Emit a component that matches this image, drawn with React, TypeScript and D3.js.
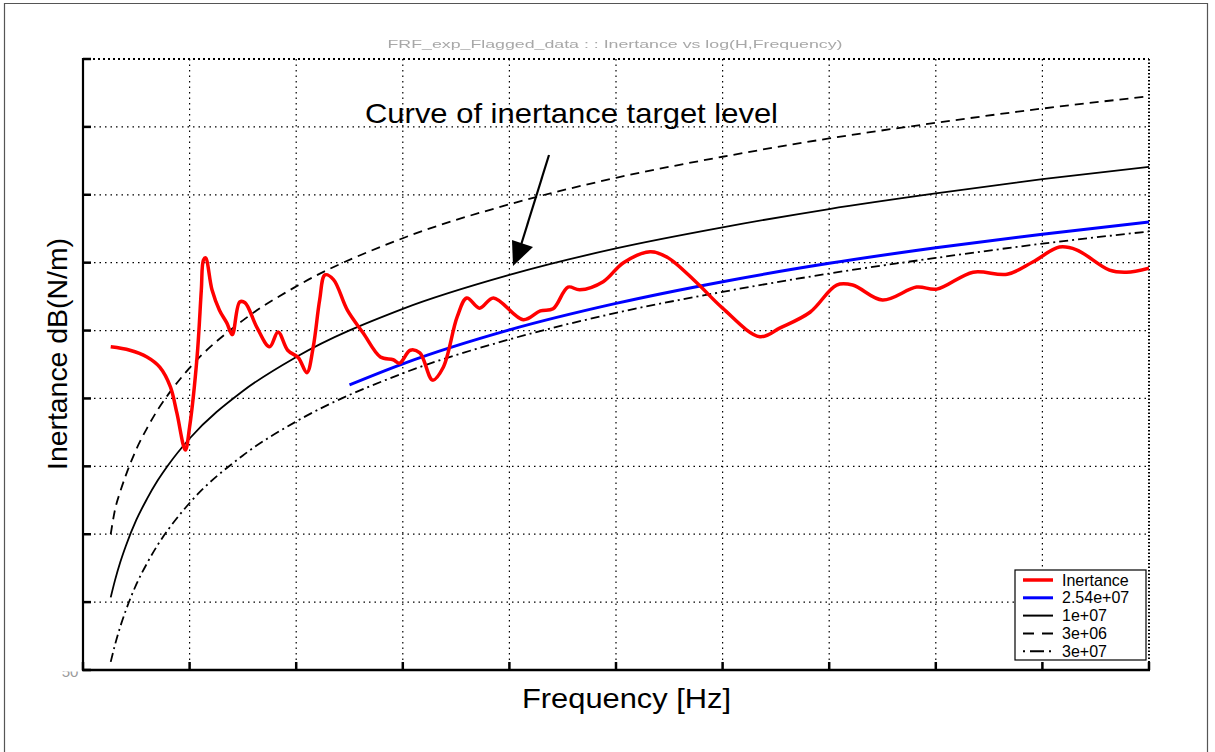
import React from 'react';
import * as d3 from 'd3';

// ---- data (frequency in Hz, inertance in dB) ----
const xTicks = [0, 100, 200, 300, 400, 500, 600, 700, 800, 900, 1000];
const yTicks = [50, 60, 70, 80, 90, 100, 110, 120, 130, 140];

const freqTarget = [26, 30, 35, 40, 50, 60, 70, 80, 100, 150, 200, 300, 400, 500, 600, 700, 800, 900, 1000];
const target3e6 = [70.0, 73.6, 76.3, 78.6, 82.5, 85.6, 88.3, 90.6, 94.5, 101.5, 106.5, 113.6, 118.6, 122.5, 125.6, 128.3, 130.6, 132.7, 134.5];
const target1e7 = [60.7, 63.2, 65.9, 68.2, 72.1, 75.2, 77.9, 80.2, 84.1, 91.1, 96.1, 103.2, 108.2, 112.1, 115.2, 117.9, 120.2, 122.3, 124.1];
const target3e7 = [51.2, 53.7, 56.4, 58.7, 62.6, 65.7, 68.4, 70.7, 74.6, 81.6, 86.6, 93.7, 98.7, 102.6, 105.7, 108.4, 110.7, 112.8, 114.6];

const freqFit = [250, 300, 400, 500, 600, 700, 800, 900, 1000];
const fit254e7 = [92.0, 95.1, 100.1, 104.0, 107.2, 109.9, 112.2, 114.2, 116.0];

const freqMeas = [26, 44, 60, 72, 82, 88, 96, 100, 107, 111, 113, 115, 121, 128, 135, 140, 147, 152, 163, 175, 183, 192, 202, 210, 216, 222, 227, 235, 248, 263, 279, 291, 297, 307, 316, 328, 338, 351, 360, 372, 385, 413, 429, 441, 455, 466, 488, 507, 532, 548, 576, 600, 635, 654, 682, 707, 722, 750, 782, 801, 835, 867, 891, 916, 932, 963, 979, 1000];
const inertance = [97.6, 97.1, 96.1, 94.6, 91.7, 87.9, 82.4, 85.8, 96.1, 106.0, 110.4, 110.7, 106.0, 103.0, 101.1, 99.4, 104.2, 104.1, 100.5, 97.6, 99.8, 97.1, 96.0, 93.8, 97.6, 104.5, 108.2, 107.5, 103.0, 99.6, 96.1, 95.7, 95.2, 97.1, 96.7, 92.7, 94.6, 102.0, 104.8, 103.3, 104.8, 101.6, 102.9, 103.2, 106.4, 106.0, 107.2, 110.0, 111.6, 110.8, 107.0, 103.3, 99.1, 100.4, 102.7, 106.7, 106.7, 104.5, 106.4, 106.1, 108.6, 108.3, 110.1, 112.3, 111.9, 108.9, 108.6, 109.2];

const legendLabels = ['Inertance', '2.54e+07', '1e+07', '3e+06', '3e+07'];

const FONT = '"Liberation Sans", Arial, Helvetica, sans-serif';

export default function App() {
  const left = 83, right = 1149, top = 59, bottom = 670;
  const x = d3.scaleLinear().domain([0, 1000]).range([left, right]);
  const y = d3.scaleLinear().domain([50, 140]).range([bottom, top]);

  const smooth = d3.line<[number, number]>()
    .x(d => x(d[0])).y(d => y(d[1]))
    .curve(d3.curveMonotoneX);
  const wiggly = d3.line<[number, number]>()
    .x(d => x(d[0])).y(d => y(d[1]))
    .curve(d3.curveCatmullRom.alpha(0.5));

  const zip = (a: number[], b: number[]) => a.map((v, i) => [v, b[i]] as [number, number]);

  const gridDash = '1.5,4';

  const styles = [
    { stroke: '#ff0000', width: 3.5 },
    { stroke: '#0000ff', width: 3 },
    { stroke: '#000', width: 2 },
    { stroke: '#000', width: 2 },
    { stroke: '#000', width: 2 },
  ];
  const legendSample = [undefined, undefined, undefined, '11,8', '2,5,14,5,2'];

  const lgX = 1015, lgY = 570, lgW = 131, lgH = 90;

  return (
    <svg width={1215} height={752} style={{ position: 'absolute', left: 0, top: 0, background: '#fff' }}>
      <defs>
        <clipPath id="plot"><rect x={left} y={top} width={right - left} height={bottom - top} /></clipPath>
        <clipPath id="fifty"><rect x={55} y={671.5} width={30} height={10} /></clipPath>
        <filter id="blur"><feGaussianBlur stdDeviation="0.7" /></filter>
      </defs>

      {/* outer frame */}
      <path d="M4.5,752 V3.5 H1207.5 V752" fill="none" stroke="#555" strokeWidth={1.2} />

      {/* faint title */}
      <text x={615} y={48} textAnchor="middle" fontFamily={FONT} fontSize={11} fill="#a8a8a8" filter="url(#blur)"
        textLength={455} lengthAdjust="spacingAndGlyphs">FRF_exp_Flagged_data : : Inertance vs log(H,Frequency)</text>

      {/* grid */}
      {xTicks.slice(1).map(t => (
        <line key={'gx' + t} x1={x(t)} x2={x(t)} y1={top} y2={bottom} stroke="#000"
          strokeWidth={t === 1000 ? 2 : 1.2} strokeDasharray={t === 1000 ? '1.5,2' : gridDash} />
      ))}
      {yTicks.slice(1).map(t => (
        <line key={'gy' + t} x1={left} x2={right} y1={y(t)} y2={y(t)} stroke="#000"
          strokeWidth={t === 140 ? 2 : 1.2} strokeDasharray={t === 140 ? '2,3' : gridDash} />
      ))}

      {/* curves */}
      <g clipPath="url(#plot)" fill="none">
        <path d={smooth(zip(freqTarget, target3e7)) || ''} stroke="#000" strokeWidth={1.8} strokeDasharray="9,4,2,4" />
        <path d={smooth(zip(freqTarget, target3e6)) || ''} stroke="#000" strokeWidth={1.8} strokeDasharray="9,6" />
        <path d={smooth(zip(freqTarget, target1e7)) || ''} stroke="#000" strokeWidth={1.8} />
        <path d={smooth(zip(freqFit, fit254e7)) || ''} stroke="#0000ff" strokeWidth={3} />
        <path d={wiggly(zip(freqMeas, inertance)) || ''} stroke="#ff0000" strokeWidth={3.5} strokeLinejoin="round" />
      </g>

      {/* axes */}
      <line x1={left} x2={left} y1={top - 1} y2={bottom + 1} stroke="#000" strokeWidth={2.2} />
      <line x1={left - 1} x2={right + 1} y1={bottom} y2={bottom} stroke="#000" strokeWidth={2.5} />
      {yTicks.map(t => (
        <line key={'ty' + t} x1={left} x2={left + 8} y1={y(t)} y2={y(t)} stroke="#000" strokeWidth={2.5} />
      ))}
      {xTicks.map(t => (
        <line key={'tx' + t} x1={x(t)} x2={x(t)} y1={bottom} y2={bottom - 8} stroke="#000" strokeWidth={2.5} />
      ))}

      {/* faint remnant of tick label */}
      <text x={70} y={677} textAnchor="middle" fontFamily={FONT} fontSize={15} fill="#9a9a9a" clipPath="url(#fifty)">50</text>

      {/* annotation */}
      <text x={365} y={123} fontFamily={FONT} fontSize={28} fill="#000" textLength={413} lengthAdjust="spacingAndGlyphs">Curve of inertance target level</text>
      <line x1={549} y1={155} x2={521} y2={245} stroke="#000" strokeWidth={2.2} />
      <polygon points="513,266 512,240 533,247" fill="#000" />

      {/* axis labels */}
      <text x={522} y={708} fontFamily={FONT} fontSize={28} fill="#000" textLength={209} lengthAdjust="spacingAndGlyphs">Frequency [Hz]</text>
      <text transform="translate(67,470) rotate(-90)" fontFamily={FONT} fontSize={28} fill="#000" textLength={232} lengthAdjust="spacingAndGlyphs">Inertance dB(N/m)</text>

      {/* legend */}
      <rect x={lgX} y={lgY} width={lgW} height={lgH} fill="#fff" stroke="#000" strokeWidth={1.2} />
      {legendLabels.map((lab, i) => {
        const cy = lgY + 10 + i * 17.8;
        const s = styles[i];
        return (
          <g key={lab}>
            <line x1={1023} x2={1053} y1={cy} y2={cy} stroke={s.stroke}
              strokeWidth={s.width} strokeDasharray={legendSample[i]} />
            <text x={1062} y={cy + 5.5} fontFamily={FONT} fontSize={16} fill="#000">{lab}</text>
          </g>
        );
      })}
    </svg>
  );
}
